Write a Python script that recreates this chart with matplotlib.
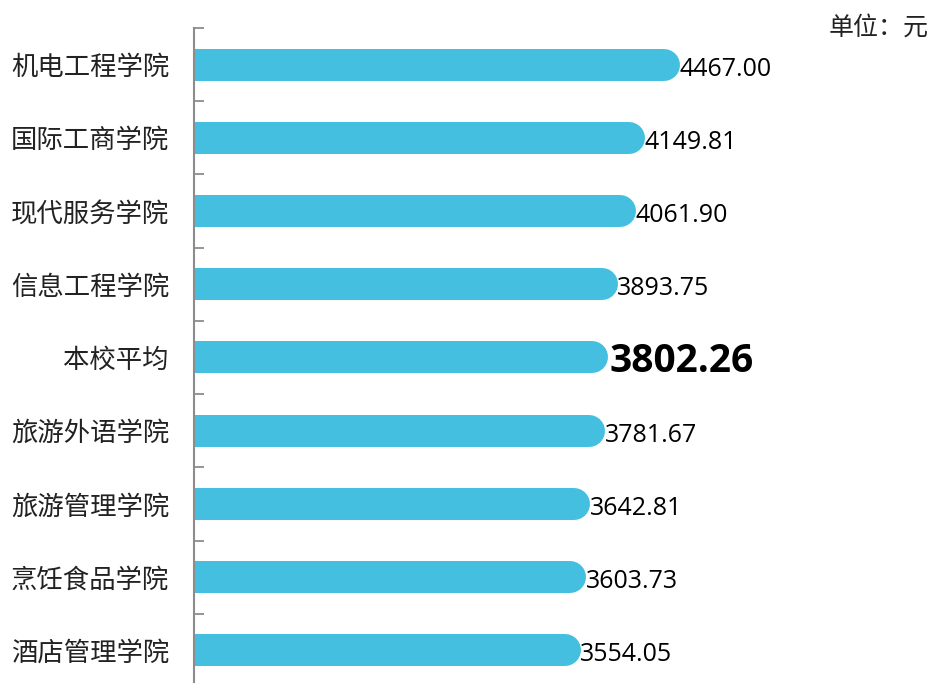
import matplotlib
matplotlib.use('Agg')
import matplotlib.pyplot as plt

plt.rcParams['font.family'] = ['Noto Sans CJK SC', 'DejaVu Sans']

categories = ['机电工程学院', '国际工商学院', '现代服务学院', '信息工程学院', '本校平均',
              '旅游外语学院', '旅游管理学院', '烹饪食品学院', '酒店管理学院']
values = [4467.00, 4149.81, 4061.90, 3893.75, 3802.26, 3781.67, 3642.81, 3603.73, 3554.05]
highlight = '本校平均'

W, H, DPI = 934, 683, 100
fig = plt.figure(figsize=(W / DPI, H / DPI), dpi=DPI)

# axes placement in pixels
left_px, top_px, bottom_px = 194, 28, 687
ax = fig.add_axes([left_px / W, (H - bottom_px) / H, (W - left_px) / W, (bottom_px - top_px) / H])
scale = 0.1088  # px per unit
xmax = (W - left_px) / scale
ax.set_xlim(0, xmax)
ax.set_ylim(len(categories) - 0.5, -0.5)

bar_px = 32
r_data = (bar_px / 2) / scale
color = '#45BFDF'
for i, (c, v) in enumerate(zip(categories, values)):
    ax.plot([0, v - r_data], [i, i], color=color, lw=bar_px * 72 / DPI,
            solid_capstyle='round', zorder=2)
    if c == highlight:
        ax.text(v + 15, i + 0.06, f'{v:.2f}', ha='left', va='center', fontsize=28,
                fontweight='bold', family='Open Sans', color='black')
    else:
        ax.text(v - 5, i + 0.06, f'{v:.2f}', ha='left', va='center', fontsize=18,
                family='Open Sans', color='black')

ax.set_yticks(range(len(categories)))
ax.set_yticklabels(categories, fontsize=19, color='#222222')
ax.tick_params(axis='y', which='major', length=0, pad=18)
ax.set_yticks([i + 0.5 for i in range(-1, len(categories))], minor=True)
ax.tick_params(axis='y', which='minor', direction='in', length=7, width=1.3, color='#8c8c8c')
ax.set_xticks([])

for s in ['top', 'right', 'bottom']:
    ax.spines[s].set_visible(False)
ax.spines['left'].set_color('#8c8c8c')
ax.spines['left'].set_linewidth(1.5)
ax.spines['left'].set_zorder(3)

fig.text(929 / W, 1 - 28 / H, '单位：元', ha='right', va='center', fontsize=18, color='#222222')

fig.savefig('out.png', dpi=DPI)
